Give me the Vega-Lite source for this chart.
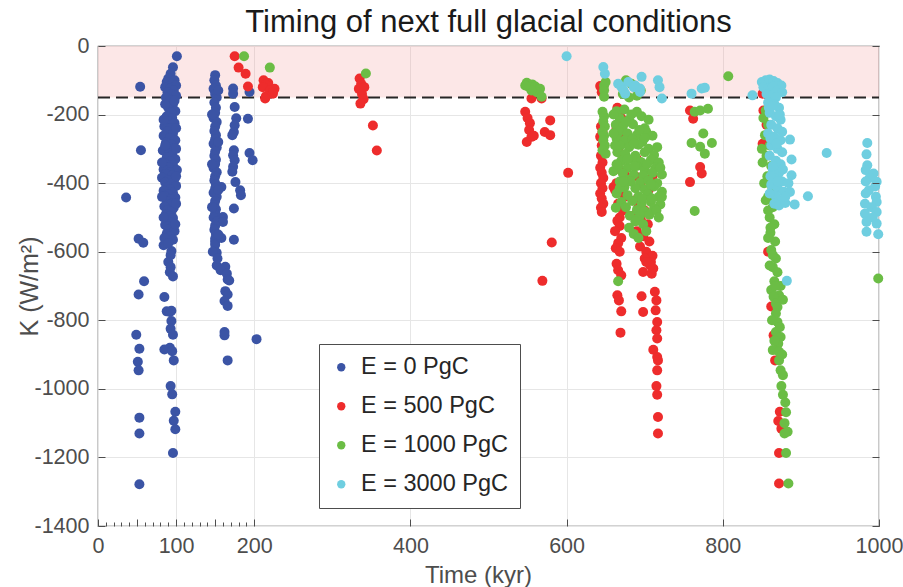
{
"$schema": "https://vega.github.io/schema/vega-lite/v6.json",
"width": 781, "height": 480,
"autosize": "none",
"padding": {"left": 98, "top": 46, "right": 24, "bottom": 61},
"background": "white",
"config": {"font": "Liberation Sans", "view": {"stroke": "#4d4d4d", "strokeWidth": 1.2}},
"title": {"text": "Timing of next full glacial conditions", "fontSize": 31, "fontWeight": "normal", "color": "#1a1a1a", "anchor": "middle", "baseline": "alphabetic", "offset": -28, "frame": "group"},
"datasets": {
"band": [{"a": 0, "b": 1000, "z": 0, "k": -150}],
"pts": [
{"t":101,"k":-30,"e":"0"},{"t":96,"k":-62,"e":"0"},{"t":93,"k":-81,"e":"0"},{"t":90,"k":-95,"e":"0"},{"t":98,"k":-100,"e":"0"},{"t":88,"k":-105,"e":"0"},{"t":95,"k":-110,"e":"0"},{"t":100,"k":-115,"e":"0"},{"t":86,"k":-120,"e":"0"},{"t":92,"k":-125,"e":"0"},{"t":97,"k":-130,"e":"0"},{"t":89,"k":-135,"e":"0"},{"t":94,"k":-140,"e":"0"},{"t":100,"k":-145,"e":"0"},{"t":87,"k":-150,"e":"0"},{"t":93,"k":-160,"e":"0"},{"t":96,"k":-170,"e":"0"},{"t":90,"k":-180,"e":"0"},{"t":99,"k":-190,"e":"0"},{"t":94,"k":-195,"e":"0"},{"t":88,"k":-205,"e":"0"},{"t":95,"k":-210,"e":"0"},{"t":91,"k":-220,"e":"0"},{"t":98,"k":-225,"e":"0"},{"t":85,"k":-235,"e":"0"},{"t":93,"k":-240,"e":"0"},{"t":89,"k":-250,"e":"0"},{"t":96,"k":-255,"e":"0"},{"t":84,"k":-262,"e":"0"},{"t":92,"k":-268,"e":"0"},{"t":99,"k":-275,"e":"0"},{"t":87,"k":-282,"e":"0"},{"t":94,"k":-288,"e":"0"},{"t":90,"k":-295,"e":"0"},{"t":97,"k":-300,"e":"0"},{"t":83,"k":-305,"e":"0"},{"t":91,"k":-312,"e":"0"},{"t":95,"k":-318,"e":"0"},{"t":88,"k":-325,"e":"0"},{"t":99,"k":-330,"e":"0"},{"t":93,"k":-336,"e":"0"},{"t":86,"k":-342,"e":"0"},{"t":96,"k":-348,"e":"0"},{"t":90,"k":-354,"e":"0"},{"t":84,"k":-360,"e":"0"},{"t":101,"k":-362,"e":"0"},{"t":92,"k":-368,"e":"0"},{"t":87,"k":-373,"e":"0"},{"t":95,"k":-378,"e":"0"},{"t":82,"k":-384,"e":"0"},{"t":98,"k":-388,"e":"0"},{"t":90,"k":-392,"e":"0"},{"t":86,"k":-398,"e":"0"},{"t":94,"k":-402,"e":"0"},{"t":100,"k":-408,"e":"0"},{"t":88,"k":-412,"e":"0"},{"t":92,"k":-418,"e":"0"},{"t":84,"k":-422,"e":"0"},{"t":96,"k":-428,"e":"0"},{"t":90,"k":-433,"e":"0"},{"t":86,"k":-438,"e":"0"},{"t":99,"k":-442,"e":"0"},{"t":93,"k":-447,"e":"0"},{"t":88,"k":-452,"e":"0"},{"t":95,"k":-458,"e":"0"},{"t":91,"k":-463,"e":"0"},{"t":85,"k":-468,"e":"0"},{"t":97,"k":-472,"e":"0"},{"t":89,"k":-478,"e":"0"},{"t":94,"k":-483,"e":"0"},{"t":87,"k":-490,"e":"0"},{"t":92,"k":-496,"e":"0"},{"t":96,"k":-502,"e":"0"},{"t":88,"k":-508,"e":"0"},{"t":93,"k":-515,"e":"0"},{"t":86,"k":-522,"e":"0"},{"t":95,"k":-528,"e":"0"},{"t":90,"k":-535,"e":"0"},{"t":98,"k":-540,"e":"0"},{"t":88,"k":-548,"e":"0"},{"t":92,"k":-555,"e":"0"},{"t":84,"k":-581,"e":"0"},{"t":94,"k":-598,"e":"0"},{"t":93,"k":-610,"e":"0"},{"t":90,"k":-630,"e":"0"},{"t":93,"k":-645,"e":"0"},{"t":92,"k":-660,"e":"0"},{"t":96,"k":-672,"e":"0"},{"t":85,"k":-732,"e":"0"},{"t":88,"k":-774,"e":"0"},{"t":92,"k":-776,"e":"0"},{"t":94,"k":-772,"e":"0"},{"t":94,"k":-802,"e":"0"},{"t":93,"k":-825,"e":"0"},{"t":96,"k":-842,"e":"0"},{"t":92,"k":-880,"e":"0"},{"t":85,"k":-885,"e":"0"},{"t":95,"k":-890,"e":"0"},{"t":97,"k":-917,"e":"0"},{"t":93,"k":-992,"e":"0"},{"t":95,"k":-1016,"e":"0"},{"t":99,"k":-1067,"e":"0"},{"t":97,"k":-1093,"e":"0"},{"t":99,"k":-1118,"e":"0"},{"t":96,"k":-1187,"e":"0"},
{"t":86,"k":-170,"e":"0"},{"t":98,"k":-160,"e":"0"},{"t":84,"k":-215,"e":"0"},{"t":100,"k":-240,"e":"0"},{"t":86,"k":-290,"e":"0"},{"t":100,"k":-300,"e":"0"},{"t":82,"k":-340,"e":"0"},{"t":100,"k":-380,"e":"0"},{"t":82,"k":-440,"e":"0"},{"t":100,"k":-460,"e":"0"},{"t":84,"k":-500,"e":"0"},{"t":99,"k":-520,"e":"0"},{"t":85,"k":-560,"e":"0"},{"t":96,"k":-565,"e":"0"},{"t":90,"k":-575,"e":"0"},
{"t":54,"k":-119,"e":"0"},{"t":55,"k":-304,"e":"0"},{"t":36,"k":-442,"e":"0"},{"t":52,"k":-562,"e":"0"},{"t":58,"k":-574,"e":"0"},{"t":59,"k":-686,"e":"0"},{"t":52,"k":-725,"e":"0"},{"t":49,"k":-842,"e":"0"},{"t":53,"k":-883,"e":"0"},{"t":51,"k":-921,"e":"0"},{"t":52,"k":-946,"e":"0"},{"t":53,"k":-1084,"e":"0"},{"t":53,"k":-1130,"e":"0"},{"t":53,"k":-1278,"e":"0"},
{"t":150,"k":-85,"e":"0"},{"t":149,"k":-100,"e":"0"},{"t":151,"k":-115,"e":"0"},{"t":148,"k":-125,"e":"0"},{"t":150,"k":-140,"e":"0"},{"t":152,"k":-150,"e":"0"},{"t":149,"k":-165,"e":"0"},{"t":151,"k":-180,"e":"0"},{"t":150,"k":-195,"e":"0"},{"t":148,"k":-210,"e":"0"},{"t":152,"k":-222,"e":"0"},{"t":150,"k":-235,"e":"0"},{"t":149,"k":-248,"e":"0"},{"t":151,"k":-260,"e":"0"},{"t":150,"k":-272,"e":"0"},{"t":148,"k":-285,"e":"0"},{"t":152,"k":-296,"e":"0"},{"t":150,"k":-308,"e":"0"},{"t":149,"k":-320,"e":"0"},{"t":151,"k":-332,"e":"0"},{"t":150,"k":-344,"e":"0"},{"t":148,"k":-356,"e":"0"},{"t":152,"k":-368,"e":"0"},{"t":150,"k":-380,"e":"0"},{"t":149,"k":-392,"e":"0"},{"t":158,"k":-411,"e":"0"},{"t":151,"k":-404,"e":"0"},{"t":150,"k":-416,"e":"0"},{"t":148,"k":-428,"e":"0"},{"t":152,"k":-440,"e":"0"},{"t":150,"k":-452,"e":"0"},{"t":149,"k":-464,"e":"0"},{"t":151,"k":-476,"e":"0"},{"t":160,"k":-499,"e":"0"},{"t":150,"k":-488,"e":"0"},{"t":148,"k":-500,"e":"0"},{"t":152,"k":-512,"e":"0"},{"t":160,"k":-513,"e":"0"},{"t":150,"k":-524,"e":"0"},{"t":149,"k":-536,"e":"0"},{"t":151,"k":-548,"e":"0"},{"t":150,"k":-562,"e":"0"},{"t":150,"k":-571,"e":"0"},{"t":150,"k":-580,"e":"0"},{"t":158,"k":-560,"e":"0"},{"t":152,"k":-603,"e":"0"},{"t":152,"k":-640,"e":"0"},{"t":163,"k":-644,"e":"0"},{"t":157,"k":-654,"e":"0"},{"t":165,"k":-664,"e":"0"},{"t":166,"k":-681,"e":"0"},{"t":168,"k":-684,"e":"0"},{"t":163,"k":-715,"e":"0"},{"t":166,"k":-725,"e":"0"},{"t":162,"k":-744,"e":"0"},{"t":166,"k":-758,"e":"0"},{"t":162,"k":-834,"e":"0"},{"t":162,"k":-844,"e":"0"},{"t":166,"k":-917,"e":"0"},
{"t":154,"k":-130,"e":"0"},{"t":146,"k":-200,"e":"0"},{"t":154,"k":-280,"e":"0"},{"t":146,"k":-345,"e":"0"},{"t":154,"k":-420,"e":"0"},{"t":146,"k":-470,"e":"0"},{"t":154,"k":-550,"e":"0"},{"t":147,"k":-600,"e":"0"},{"t":153,"k":-620,"e":"0"},
{"t":173,"k":-124,"e":"0"},{"t":173,"k":-139,"e":"0"},{"t":175,"k":-178,"e":"0"},{"t":177,"k":-211,"e":"0"},{"t":175,"k":-231,"e":"0"},{"t":174,"k":-251,"e":"0"},{"t":172,"k":-260,"e":"0"},{"t":174,"k":-304,"e":"0"},{"t":173,"k":-319,"e":"0"},{"t":175,"k":-333,"e":"0"},{"t":173,"k":-352,"e":"0"},{"t":172,"k":-367,"e":"0"},{"t":176,"k":-397,"e":"0"},{"t":182,"k":-421,"e":"0"},{"t":183,"k":-435,"e":"0"},{"t":174,"k":-474,"e":"0"},{"t":174,"k":-565,"e":"0"},{"t":194,"k":-134,"e":"0"},{"t":192,"k":-212,"e":"0"},{"t":194,"k":-312,"e":"0"},{"t":198,"k":-333,"e":"0"},{"t":203,"k":-855,"e":"0"},
{"t":175,"k":-30,"e":"500"},{"t":180,"k":-63,"e":"500"},{"t":189,"k":-81,"e":"500"},{"t":192,"k":-118,"e":"500"},{"t":212,"k":-100,"e":"500"},{"t":218,"k":-108,"e":"500"},{"t":215,"k":-112,"e":"500"},{"t":211,"k":-120,"e":"500"},{"t":226,"k":-125,"e":"500"},{"t":220,"k":-129,"e":"500"},{"t":224,"k":-134,"e":"500"},{"t":224,"k":-139,"e":"500"},{"t":215,"k":-147,"e":"500"},{"t":214,"k":-153,"e":"500"},
{"t":335,"k":-95,"e":"500"},{"t":337,"k":-110,"e":"500"},{"t":334,"k":-125,"e":"500"},{"t":338,"k":-140,"e":"500"},{"t":340,"k":-155,"e":"500"},{"t":336,"k":-168,"e":"500"},{"t":341,"k":-120,"e":"500"},{"t":352,"k":-232,"e":"500"},{"t":357,"k":-305,"e":"500"},
{"t":555,"k":-153,"e":"500"},{"t":568,"k":-153,"e":"500"},{"t":547,"k":-192,"e":"500"},{"t":550,"k":-210,"e":"500"},{"t":553,"k":-225,"e":"500"},{"t":552,"k":-245,"e":"500"},{"t":555,"k":-265,"e":"500"},{"t":549,"k":-280,"e":"500"},{"t":558,"k":-262,"e":"500"},{"t":579,"k":-217,"e":"500"},{"t":572,"k":-251,"e":"500"},{"t":579,"k":-260,"e":"500"},{"t":602,"k":-370,"e":"500"},{"t":581,"k":-573,"e":"500"},{"t":569,"k":-685,"e":"500"},
{"t":643,"k":-117,"e":"500"},{"t":645,"k":-135,"e":"500"},{"t":644,"k":-235,"e":"500"},{"t":646,"k":-250,"e":"500"},{"t":643,"k":-265,"e":"500"},{"t":645,"k":-290,"e":"500"},{"t":647,"k":-305,"e":"500"},{"t":644,"k":-320,"e":"500"},{"t":646,"k":-340,"e":"500"},{"t":643,"k":-355,"e":"500"},{"t":645,"k":-370,"e":"500"},{"t":647,"k":-385,"e":"500"},{"t":644,"k":-400,"e":"500"},{"t":646,"k":-415,"e":"500"},{"t":643,"k":-430,"e":"500"},{"t":645,"k":-445,"e":"500"},{"t":647,"k":-460,"e":"500"},{"t":644,"k":-472,"e":"500"},{"t":645,"k":-484,"e":"500"},{"t":660,"k":-411,"e":"500"},{"t":662,"k":-420,"e":"500"},
{"t":665,"k":-180,"e":"500"},{"t":668,"k":-200,"e":"500"},{"t":672,"k":-215,"e":"500"},{"t":664,"k":-240,"e":"500"},{"t":670,"k":-260,"e":"500"},{"t":675,"k":-280,"e":"500"},{"t":666,"k":-300,"e":"500"},{"t":672,"k":-330,"e":"500"},{"t":668,"k":-360,"e":"500"},{"t":676,"k":-380,"e":"500"},{"t":664,"k":-400,"e":"500"},{"t":670,"k":-420,"e":"500"},{"t":674,"k":-440,"e":"500"},{"t":666,"k":-460,"e":"500"},{"t":672,"k":-480,"e":"500"},{"t":668,"k":-500,"e":"500"},
{"t":665,"k":-510,"e":"500"},{"t":668,"k":-525,"e":"500"},{"t":662,"k":-540,"e":"500"},{"t":670,"k":-560,"e":"500"},{"t":666,"k":-575,"e":"500"},{"t":663,"k":-590,"e":"500"},{"t":668,"k":-600,"e":"500"},{"t":664,"k":-635,"e":"500"},{"t":666,"k":-654,"e":"500"},{"t":670,"k":-669,"e":"500"},{"t":665,"k":-727,"e":"500"},{"t":667,"k":-742,"e":"500"},{"t":670,"k":-774,"e":"500"},{"t":669,"k":-836,"e":"500"},
{"t":688,"k":-450,"e":"500"},{"t":692,"k":-470,"e":"500"},{"t":700,"k":-480,"e":"500"},{"t":686,"k":-495,"e":"500"},{"t":695,"k":-505,"e":"500"},{"t":704,"k":-520,"e":"500"},{"t":690,"k":-540,"e":"500"},{"t":698,"k":-555,"e":"500"},{"t":706,"k":-570,"e":"500"},{"t":694,"k":-585,"e":"500"},{"t":702,"k":-600,"e":"500"},{"t":710,"k":-612,"e":"500"},{"t":700,"k":-620,"e":"500"},{"t":708,"k":-630,"e":"500"},{"t":698,"k":-659,"e":"500"},{"t":709,"k":-664,"e":"500"},{"t":711,"k":-649,"e":"500"},{"t":707,"k":-640,"e":"500"},{"t":702,"k":-630,"e":"500"},{"t":696,"k":-730,"e":"500"},{"t":698,"k":-776,"e":"500"},{"t":713,"k":-717,"e":"500"},{"t":715,"k":-742,"e":"500"},{"t":714,"k":-771,"e":"500"},{"t":716,"k":-805,"e":"500"},{"t":715,"k":-829,"e":"500"},{"t":716,"k":-853,"e":"500"},{"t":711,"k":-886,"e":"500"},{"t":716,"k":-907,"e":"500"},{"t":717,"k":-917,"e":"500"},{"t":716,"k":-946,"e":"500"},{"t":715,"k":-992,"e":"500"},{"t":716,"k":-1017,"e":"500"},{"t":717,"k":-1082,"e":"500"},{"t":717,"k":-1130,"e":"500"},
{"t":690,"k":-330,"e":"500"},{"t":700,"k":-350,"e":"500"},{"t":710,"k":-380,"e":"500"},{"t":695,"k":-400,"e":"500"},{"t":705,"k":-420,"e":"500"},{"t":688,"k":-380,"e":"500"},
{"t":758,"k":-188,"e":"500"},{"t":762,"k":-212,"e":"500"},{"t":771,"k":-353,"e":"500"},{"t":773,"k":-372,"e":"500"},{"t":758,"k":-397,"e":"500"},
{"t":851,"k":-139,"e":"500"},{"t":852,"k":-188,"e":"500"},{"t":851,"k":-285,"e":"500"},{"t":856,"k":-230,"e":"500"},{"t":858,"k":-600,"e":"500"},{"t":862,"k":-760,"e":"500"},{"t":865,"k":-844,"e":"500"},{"t":867,"k":-917,"e":"500"},{"t":873,"k":-1067,"e":"500"},{"t":871,"k":-1094,"e":"500"},{"t":875,"k":-1116,"e":"500"},{"t":872,"k":-1187,"e":"500"},{"t":872,"k":-1276,"e":"500"},
{"t":187,"k":-30,"e":"1000"},{"t":220,"k":-63,"e":"1000"},{"t":343,"k":-80,"e":"1000"},
{"t":549,"k":-107,"e":"1000"},{"t":556,"k":-112,"e":"1000"},{"t":552,"k":-120,"e":"1000"},{"t":560,"k":-118,"e":"1000"},{"t":566,"k":-125,"e":"1000"},{"t":562,"k":-135,"e":"1000"},{"t":555,"k":-130,"e":"1000"},{"t":568,"k":-148,"e":"1000"},{"t":547,"k":-115,"e":"1000"},
{"t":648,"k":-115,"e":"1000"},{"t":648,"k":-129,"e":"1000"},{"t":648,"k":-148,"e":"1000"},{"t":650,"k":-105,"e":"1000"},{"t":646,"k":-192,"e":"1000"},{"t":648,"k":-205,"e":"1000"},{"t":647,"k":-220,"e":"1000"},{"t":649,"k":-235,"e":"1000"},{"t":646,"k":-250,"e":"1000"},{"t":648,"k":-262,"e":"1000"},{"t":647,"k":-275,"e":"1000"},{"t":649,"k":-290,"e":"1000"},{"t":646,"k":-304,"e":"1000"},{"t":650,"k":-314,"e":"1000"},
{"t":676,"k":-100,"e":"1000"},{"t":683,"k":-110,"e":"1000"},{"t":690,"k":-145,"e":"1000"},{"t":680,"k":-150,"e":"1000"},{"t":695,"k":-130,"e":"1000"},{"t":672,"k":-140,"e":"1000"},
{"t":664,"k":-190,"e":"1000"},{"t":674,"k":-185,"e":"1000"},{"t":690,"k":-192,"e":"1000"},{"t":668,"k":-210,"e":"1000"},{"t":680,"k":-215,"e":"1000"},{"t":696,"k":-205,"e":"1000"},{"t":663,"k":-230,"e":"1000"},{"t":672,"k":-235,"e":"1000"},{"t":685,"k":-228,"e":"1000"},{"t":700,"k":-240,"e":"1000"},{"t":667,"k":-250,"e":"1000"},{"t":678,"k":-255,"e":"1000"},{"t":690,"k":-260,"e":"1000"},{"t":702,"k":-250,"e":"1000"},{"t":664,"k":-270,"e":"1000"},{"t":674,"k":-275,"e":"1000"},{"t":684,"k":-272,"e":"1000"},{"t":697,"k":-280,"e":"1000"},{"t":669,"k":-290,"e":"1000"},{"t":680,"k":-295,"e":"1000"},{"t":692,"k":-288,"e":"1000"},{"t":705,"k":-300,"e":"1000"},{"t":665,"k":-310,"e":"1000"},{"t":675,"k":-315,"e":"1000"},{"t":688,"k":-320,"e":"1000"},{"t":700,"k":-310,"e":"1000"},{"t":712,"k":-318,"e":"1000"},{"t":670,"k":-335,"e":"1000"},{"t":684,"k":-330,"e":"1000"},{"t":695,"k":-338,"e":"1000"},{"t":708,"k":-332,"e":"1000"},{"t":718,"k":-340,"e":"1000"},{"t":666,"k":-352,"e":"1000"},{"t":678,"k":-355,"e":"1000"},{"t":690,"k":-350,"e":"1000"},{"t":700,"k":-362,"e":"1000"},{"t":714,"k":-355,"e":"1000"},{"t":672,"k":-372,"e":"1000"},{"t":686,"k":-375,"e":"1000"},{"t":698,"k":-378,"e":"1000"},{"t":710,"k":-370,"e":"1000"},{"t":722,"k":-375,"e":"1000"},{"t":668,"k":-395,"e":"1000"},{"t":680,"k":-390,"e":"1000"},{"t":694,"k":-398,"e":"1000"},{"t":705,"k":-392,"e":"1000"},{"t":716,"k":-400,"e":"1000"},{"t":674,"k":-412,"e":"1000"},{"t":688,"k":-415,"e":"1000"},{"t":700,"k":-418,"e":"1000"},{"t":712,"k":-410,"e":"1000"},{"t":722,"k":-425,"e":"1000"},{"t":664,"k":-430,"e":"1000"},{"t":678,"k":-435,"e":"1000"},{"t":692,"k":-438,"e":"1000"},{"t":704,"k":-432,"e":"1000"},{"t":718,"k":-440,"e":"1000"},{"t":670,"k":-455,"e":"1000"},{"t":684,"k":-452,"e":"1000"},{"t":696,"k":-460,"e":"1000"},{"t":708,"k":-455,"e":"1000"},{"t":720,"k":-462,"e":"1000"},{"t":663,"k":-472,"e":"1000"},{"t":690,"k":-478,"e":"1000"},{"t":700,"k":-482,"e":"1000"},{"t":712,"k":-475,"e":"1000"},{"t":694,"k":-495,"e":"1000"},{"t":706,"k":-492,"e":"1000"},
{"t":660,"k":-200,"e":"1000"},{"t":683,"k":-200,"e":"1000"},{"t":705,"k":-215,"e":"1000"},{"t":676,"k":-222,"e":"1000"},{"t":693,"k":-245,"e":"1000"},{"t":710,"k":-262,"e":"1000"},{"t":660,"k":-255,"e":"1000"},{"t":686,"k":-285,"e":"1000"},{"t":716,"k":-295,"e":"1000"},{"t":662,"k":-290,"e":"1000"},{"t":678,"k":-330,"e":"1000"},{"t":703,"k":-345,"e":"1000"},{"t":720,"k":-355,"e":"1000"},{"t":660,"k":-365,"e":"1000"},{"t":682,"k":-395,"e":"1000"},{"t":708,"k":-405,"e":"1000"},{"t":668,"k":-415,"e":"1000"},{"t":697,"k":-445,"e":"1000"},{"t":715,"k":-480,"e":"1000"},{"t":676,"k":-470,"e":"1000"},{"t":681,"k":-495,"e":"1000"},{"t":718,"k":-500,"e":"1000"},{"t":673,"k":-395,"e":"1000"},{"t":687,"k":-350,"e":"1000"},{"t":709,"k":-445,"e":"1000"},{"t":722,"k":-440,"e":"1000"},{"t":690,"k":-505,"e":"1000"},{"t":664,"k":-345,"e":"1000"},{"t":700,"k":-268,"e":"1000"},
{"t":688,"k":-512,"e":"1000"},{"t":698,"k":-520,"e":"1000"},{"t":702,"k":-540,"e":"1000"},{"t":686,"k":-548,"e":"1000"},{"t":680,"k":-530,"e":"1000"},{"t":692,"k":-560,"e":"1000"},{"t":666,"k":-686,"e":"1000"},
{"t":764,"k":-192,"e":"1000"},{"t":771,"k":-188,"e":"1000"},{"t":781,"k":-183,"e":"1000"},{"t":775,"k":-255,"e":"1000"},{"t":786,"k":-283,"e":"1000"},{"t":760,"k":-283,"e":"1000"},{"t":771,"k":-294,"e":"1000"},{"t":777,"k":-314,"e":"1000"},{"t":764,"k":-481,"e":"1000"},{"t":807,"k":-88,"e":"1000"},
{"t":855,"k":-188,"e":"1000"},{"t":858,"k":-230,"e":"1000"},{"t":854,"k":-260,"e":"1000"},{"t":860,"k":-290,"e":"1000"},{"t":856,"k":-320,"e":"1000"},{"t":862,"k":-350,"e":"1000"},{"t":857,"k":-380,"e":"1000"},{"t":863,"k":-410,"e":"1000"},{"t":858,"k":-440,"e":"1000"},{"t":864,"k":-470,"e":"1000"},{"t":860,"k":-500,"e":"1000"},{"t":866,"k":-520,"e":"1000"},{"t":861,"k":-545,"e":"1000"},{"t":867,"k":-570,"e":"1000"},{"t":862,"k":-595,"e":"1000"},{"t":868,"k":-620,"e":"1000"},{"t":864,"k":-645,"e":"1000"},{"t":870,"k":-660,"e":"1000"},{"t":866,"k":-686,"e":"1000"},{"t":862,"k":-712,"e":"1000"},{"t":872,"k":-727,"e":"1000"},{"t":865,"k":-731,"e":"1000"},{"t":868,"k":-751,"e":"1000"},{"t":870,"k":-761,"e":"1000"},{"t":868,"k":-780,"e":"1000"},{"t":870,"k":-805,"e":"1000"},{"t":868,"k":-834,"e":"1000"},{"t":874,"k":-849,"e":"1000"},{"t":871,"k":-868,"e":"1000"},{"t":864,"k":-887,"e":"1000"},{"t":872,"k":-892,"e":"1000"},{"t":872,"k":-917,"e":"1000"},{"t":874,"k":-946,"e":"1000"},{"t":875,"k":-992,"e":"1000"},{"t":877,"k":-1017,"e":"1000"},{"t":881,"k":-1068,"e":"1000"},{"t":879,"k":-1100,"e":"1000"},{"t":883,"k":-1125,"e":"1000"},{"t":879,"k":-1130,"e":"1000"},{"t":881,"k":-1187,"e":"1000"},{"t":884,"k":-1276,"e":"1000"},{"t":999,"k":-678,"e":"1000"},{"t":877,"k":-740,"e":"1000"},{"t":874,"k":-700,"e":"1000"},
{"t":852,"k":-210,"e":"1000"},{"t":850,"k":-300,"e":"1000"},{"t":851,"k":-340,"e":"1000"},{"t":853,"k":-400,"e":"1000"},{"t":855,"k":-450,"e":"1000"},{"t":858,"k":-480,"e":"1000"},{"t":861,"k":-530,"e":"1000"},{"t":858,"k":-560,"e":"1000"},{"t":864,"k":-610,"e":"1000"},{"t":860,"k":-640,"e":"1000"},{"t":867,"k":-700,"e":"1000"},{"t":863,"k":-800,"e":"1000"},{"t":873,"k":-820,"e":"1000"},{"t":866,"k":-860,"e":"1000"},{"t":876,"k":-900,"e":"1000"},{"t":877,"k":-960,"e":"1000"},{"t":880,"k":-1040,"e":"1000"},
{"t":600,"k":-30,"e":"3000"},{"t":647,"k":-61,"e":"3000"},{"t":649,"k":-81,"e":"3000"},{"t":666,"k":-110,"e":"3000"},{"t":670,"k":-119,"e":"3000"},{"t":675,"k":-139,"e":"3000"},{"t":679,"k":-105,"e":"3000"},{"t":688,"k":-115,"e":"3000"},{"t":694,"k":-124,"e":"3000"},{"t":696,"k":-90,"e":"3000"},{"t":717,"k":-100,"e":"3000"},{"t":719,"k":-120,"e":"3000"},{"t":722,"k":-153,"e":"3000"},{"t":673,"k":-129,"e":"3000"},{"t":686,"k":-120,"e":"3000"},{"t":694,"k":-134,"e":"3000"},{"t":760,"k":-139,"e":"3000"},{"t":773,"k":-124,"e":"3000"},{"t":777,"k":-122,"e":"3000"},
{"t":850,"k":-105,"e":"3000"},{"t":855,"k":-100,"e":"3000"},{"t":860,"k":-98,"e":"3000"},{"t":865,"k":-102,"e":"3000"},{"t":870,"k":-108,"e":"3000"},{"t":875,"k":-115,"e":"3000"},{"t":852,"k":-120,"e":"3000"},{"t":858,"k":-125,"e":"3000"},{"t":864,"k":-118,"e":"3000"},{"t":870,"k":-130,"e":"3000"},{"t":876,"k":-135,"e":"3000"},{"t":856,"k":-140,"e":"3000"},{"t":862,"k":-145,"e":"3000"},{"t":868,"k":-150,"e":"3000"},{"t":838,"k":-144,"e":"3000"},
{"t":858,"k":-165,"e":"3000"},{"t":866,"k":-170,"e":"3000"},{"t":872,"k":-180,"e":"3000"},{"t":860,"k":-195,"e":"3000"},{"t":868,"k":-205,"e":"3000"},{"t":874,"k":-215,"e":"3000"},{"t":862,"k":-230,"e":"3000"},{"t":870,"k":-240,"e":"3000"},{"t":858,"k":-255,"e":"3000"},{"t":866,"k":-265,"e":"3000"},{"t":874,"k":-275,"e":"3000"},{"t":862,"k":-290,"e":"3000"},{"t":870,"k":-300,"e":"3000"},{"t":876,"k":-310,"e":"3000"},{"t":860,"k":-320,"e":"3000"},{"t":868,"k":-335,"e":"3000"},{"t":874,"k":-345,"e":"3000"},{"t":864,"k":-360,"e":"3000"},{"t":872,"k":-370,"e":"3000"},{"t":866,"k":-385,"e":"3000"},{"t":876,"k":-395,"e":"3000"},{"t":862,"k":-405,"e":"3000"},{"t":870,"k":-415,"e":"3000"},{"t":878,"k":-425,"e":"3000"},{"t":868,"k":-440,"e":"3000"},{"t":874,"k":-450,"e":"3000"},{"t":866,"k":-460,"e":"3000"},
{"t":859,"k":-180,"e":"3000"},{"t":873,"k":-200,"e":"3000"},{"t":861,"k":-270,"e":"3000"},{"t":869,"k":-285,"e":"3000"},{"t":864,"k":-350,"e":"3000"},{"t":861,"k":-380,"e":"3000"},{"t":877,"k":-360,"e":"3000"},{"t":870,"k":-395,"e":"3000"},{"t":860,"k":-430,"e":"3000"},{"t":872,"k":-465,"e":"3000"},{"t":864,"k":-175,"e":"3000"},{"t":876,"k":-250,"e":"3000"},
{"t":886,"k":-273,"e":"3000"},{"t":888,"k":-331,"e":"3000"},{"t":888,"k":-377,"e":"3000"},{"t":886,"k":-426,"e":"3000"},{"t":909,"k":-438,"e":"3000"},{"t":892,"k":-462,"e":"3000"},{"t":880,"k":-458,"e":"3000"},{"t":933,"k":-312,"e":"3000"},{"t":882,"k":-685,"e":"3000"},{"t":880,"k":-440,"e":"3000"},{"t":884,"k":-400,"e":"3000"},
{"t":985,"k":-283,"e":"3000"},{"t":984,"k":-316,"e":"3000"},{"t":985,"k":-348,"e":"3000"},{"t":983,"k":-362,"e":"3000"},{"t":993,"k":-372,"e":"3000"},{"t":997,"k":-396,"e":"3000"},{"t":988,"k":-385,"e":"3000"},{"t":983,"k":-395,"e":"3000"},{"t":995,"k":-410,"e":"3000"},{"t":987,"k":-421,"e":"3000"},{"t":983,"k":-430,"e":"3000"},{"t":996,"k":-440,"e":"3000"},{"t":997,"k":-455,"e":"3000"},{"t":982,"k":-460,"e":"3000"},{"t":990,"k":-470,"e":"3000"},{"t":997,"k":-484,"e":"3000"},{"t":982,"k":-489,"e":"3000"},{"t":992,"k":-500,"e":"3000"},{"t":984,"k":-513,"e":"3000"},{"t":997,"k":-518,"e":"3000"},{"t":984,"k":-542,"e":"3000"},{"t":999,"k":-549,"e":"3000"}
]},
"layer": [
{"data": {"name": "band"}, "mark": {"type": "rect", "fill": "#f4a0a0", "opacity": 0.25},
 "encoding": {
  "x": {"field": "a", "type": "quantitative", "scale": {"domain": [0, 1000], "nice": false, "zero": false},
        "axis": {"orient": "bottom", "values": [10,20,30,40,60,70,80,90,110,120,130,140,160,170,180,190], "labels": false, "domain": false, "grid": false, "tickSize": -4, "tickColor": "#4d4d4d", "tickWidth": 1, "title": null, "zindex": 1}},
  "x2": {"field": "b"},
  "y": {"field": "z", "type": "quantitative", "scale": {"domain": [-1400, 0], "nice": false, "zero": false},
        "axis": {"orient": "right", "values": [-1400,-1200,-1000,-800,-600,-400,-200,0], "labels": false, "domain": false, "grid": false, "tickSize": -7, "tickColor": "#4d4d4d", "tickWidth": 1, "title": null, "zindex": 1}},
  "y2": {"field": "k"}}},
{"data": {"name": "band"}, "mark": {"type": "rule", "color": "#262626", "strokeWidth": 2, "strokeDash": [12, 6]},
 "encoding": {
  "x": {"field": "a", "type": "quantitative", "scale": {"domain": [0, 1000], "nice": false, "zero": false}, "axis": null},
  "x2": {"field": "b"},
  "y": {"field": "k", "type": "quantitative", "scale": {"domain": [-1400, 0], "nice": false, "zero": false},
        "axis": {"orient": "left", "values": [-1400,-1200,-1000,-800,-600,-400,-200,0], "labels": false, "domain": false, "grid": false, "tickSize": -7, "tickColor": "#4d4d4d", "tickWidth": 1, "title": null, "zindex": 1}}}},
{"data": {"name": "pts"}, "mark": {"type": "circle", "size": 100, "opacity": 1},
 "encoding": {
  "x": {"field": "t", "type": "quantitative", "scale": {"domain": [0, 1000], "nice": false, "zero": false},
        "axis": {"orient": "bottom", "values": [0,100,200,400,600,800,1000], "labelExpr": "datum.value + ''", "ticks": false, "domain": false, "grid": true, "gridColor": "#e6e6e6", "gridWidth": 1, "labelFontSize": 21.5, "labelColor": "#4d4d4d", "labelPadding": 9, "labelFlush": false, "title": "Time (kyr)", "titleFontSize": 24, "titleFontWeight": "normal", "titleColor": "#4d4d4d", "titleBaseline": "alphabetic", "titleY": 56, "titleX": 380, "titleAlign": "center"}},
  "y": {"field": "k", "type": "quantitative", "scale": {"domain": [-1400, 0], "nice": false, "zero": false},
        "axis": {"orient": "left", "values": [-1400,-1200,-1000,-800,-600,-400,-200,0], "labelExpr": "datum.value + ''", "ticks": false, "domain": false, "grid": true, "gridColor": "#e6e6e6", "gridWidth": 1, "labelFontSize": 21.5, "labelColor": "#4d4d4d", "labelPadding": 9, "labelFlush": false, "title": "K (W/m²)", "titleFontSize": 25, "titleFontWeight": "normal", "titleColor": "#4d4d4d", "titleX": -56, "titleY": 240}},
  "color": {"field": "e", "type": "nominal",
        "scale": {"domain": ["0", "500", "1000", "3000"], "range": ["#3b54a5", "#ee2c2c", "#6bbd45", "#6fcee0"]},
        "legend": {"orient": "none", "legendX": 221, "legendY": 298, "title": null, "labelFontSize": 23.5, "labelColor": "#262626", "labelExpr": "'E = ' + datum.label + ' PgC '", "symbolType": "circle", "symbolSize": 70, "symbolStrokeWidth": 0, "rowPadding": 14, "padding": 11.5, "symbolOffset": -1, "labelOffset": 8, "strokeColor": "#4d4d4d", "fillColor": "white", "cornerRadius": 0}}}},
{"data": {"name": "band"}, "mark": {"type": "rect", "opacity": 0},
 "encoding": {
  "x": {"field": "a", "type": "quantitative", "scale": {"domain": [0, 1000], "nice": false, "zero": false},
        "axis": {"orient": "bottom", "values": [0,50,100,150,200,400,600,800,1000], "labels": false, "domain": false, "grid": false, "tickSize": -7, "tickColor": "#4d4d4d", "tickWidth": 1, "title": null, "zindex": 1}},
  "x2": {"field": "b"},
  "y": {"field": "z", "type": "quantitative", "scale": {"domain": [-1400, 0], "nice": false, "zero": false}, "axis": null},
  "y2": {"field": "k"}}}
],
"resolve": {"axis": {"x": "independent", "y": "independent"}}
}
